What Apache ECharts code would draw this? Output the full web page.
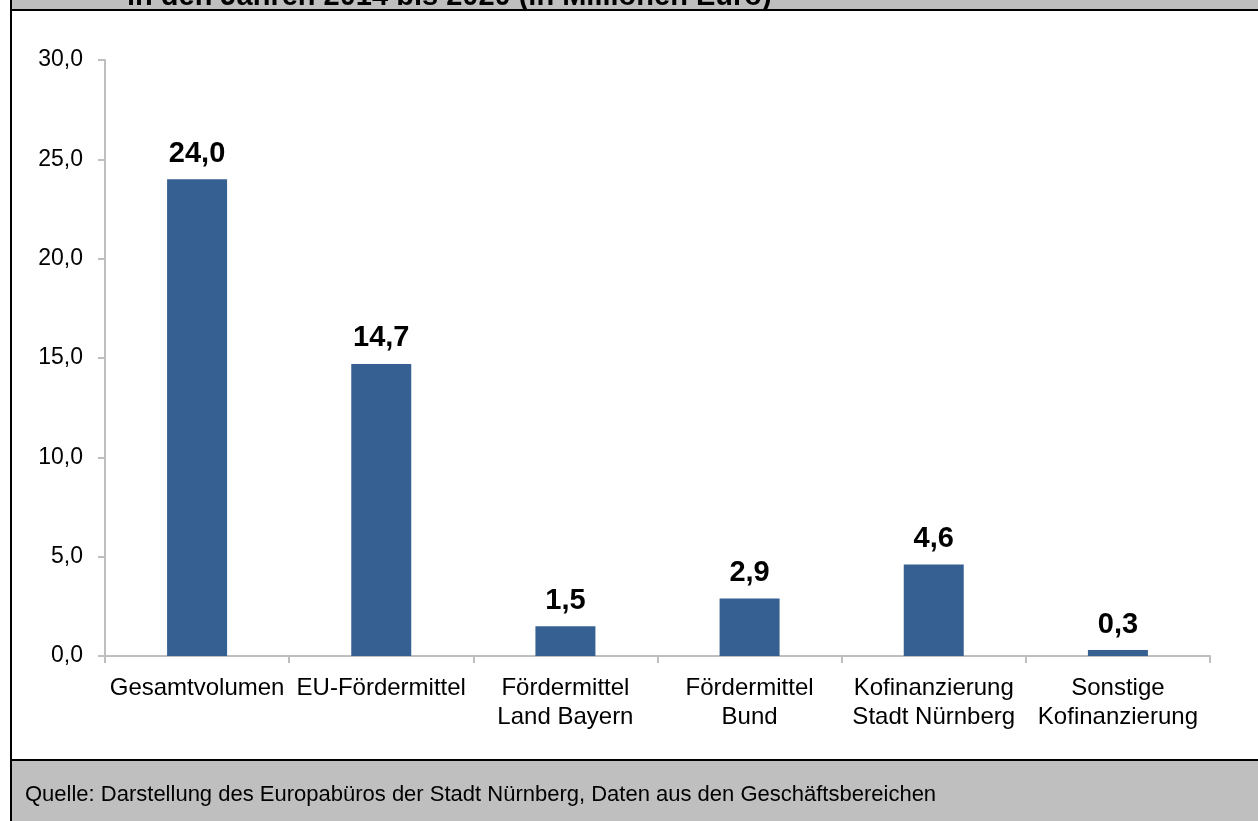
<!DOCTYPE html>
<html>
<head>
<meta charset="utf-8">
<script src="https://cdn.jsdelivr.net/npm/echarts@6/dist/echarts.min.js"></script>
<style>
html,body{margin:0;padding:0;background:#fff;}
#chart{width:1258px;height:821px;}
</style>
</head>
<body>
<div id="chart"></div>
<script>
const categories = ['Gesamtvolumen', 'EU-Fördermittel', 'Fördermittel\nLand Bayern', 'Fördermittel\nBund', 'Kofinanzierung\nStadt Nürnberg', 'Sonstige\nKofinanzierung'];
const values = [24.0, 14.7, 1.5, 2.9, 4.6, 0.3];
const yTicks = { min: 0, max: 30, interval: 5 };
const titleText = 'in den Jahren 2014 bis 2020 (in Millionen Euro)';
const sourceText = 'Quelle: Darstellung des Europabüros der Stadt Nürnberg, Daten aus den Geschäftsbereichen';

const fmt = v => v.toFixed(1).replace('.', ',');
const font = 'Liberation Sans, Arial, sans-serif';

const chart = echarts.init(document.getElementById('chart'), null, {renderer: 'canvas'});
chart.setOption({
  backgroundColor: '#fff',
  animation: false,
  textStyle: { fontFamily: font },
  graphic: [
    { type: 'rect', shape: { x: 11, y: 0, width: 1247, height: 10 }, style: { fill: '#bfbfbf' }, z: 0 },
    { type: 'text', left: 127, top: -18, style: { text: titleText, font: 'bold 29px ' + font, fill: '#000' }, z: 1 },
    { type: 'rect', shape: { x: 11, y: 760, width: 1247, height: 61 }, style: { fill: '#bfbfbf' }, z: 0 },
    { type: 'line', shape: { x1: 11, y1: 10, x2: 1258, y2: 10 }, style: { stroke: '#000', lineWidth: 2 }, z: 2 },
    { type: 'line', shape: { x1: 11, y1: 760, x2: 1258, y2: 760 }, style: { stroke: '#000', lineWidth: 2 }, z: 2 },
    { type: 'line', shape: { x1: 11, y1: 0, x2: 11, y2: 821 }, style: { stroke: '#000', lineWidth: 2 }, z: 2 },
    { type: 'text', left: 25, top: 784, style: { text: sourceText, font: '22px ' + font, fill: '#000' }, z: 3 }
  ],
  grid: { left: 105, right: 48, top: 60, bottom: 165, containLabel: false },
  xAxis: {
    type: 'category',
    data: categories,
    axisLine: { lineStyle: { color: '#bfbfbf', width: 2 } },
    axisTick: { show: true, alignWithLabel: false, length: 7, lineStyle: { color: '#bfbfbf', width: 2 } },
    axisLabel: { color: '#000', fontSize: 24, fontFamily: font, margin: 18, lineHeight: 29, interval: 0 }
  },
  yAxis: {
    type: 'value',
    min: yTicks.min, max: yTicks.max, interval: yTicks.interval,
    splitLine: { show: false },
    axisLine: { show: true, lineStyle: { color: '#bfbfbf', width: 2 } },
    axisTick: { show: true, length: 7, lineStyle: { color: '#bfbfbf', width: 2 } },
    axisLabel: { color: '#000', fontSize: 23, fontFamily: font, margin: 22, formatter: v => fmt(v) }
  },
  series: [{
    type: 'bar',
    data: values,
    barWidth: 60,
    itemStyle: { color: '#376092' },
    label: { show: true, position: 'top', distance: 11, color: '#000', fontSize: 29, fontWeight: 'bold', fontFamily: font, formatter: p => fmt(p.value) }
  }]
});
</script>
</body>
</html>
